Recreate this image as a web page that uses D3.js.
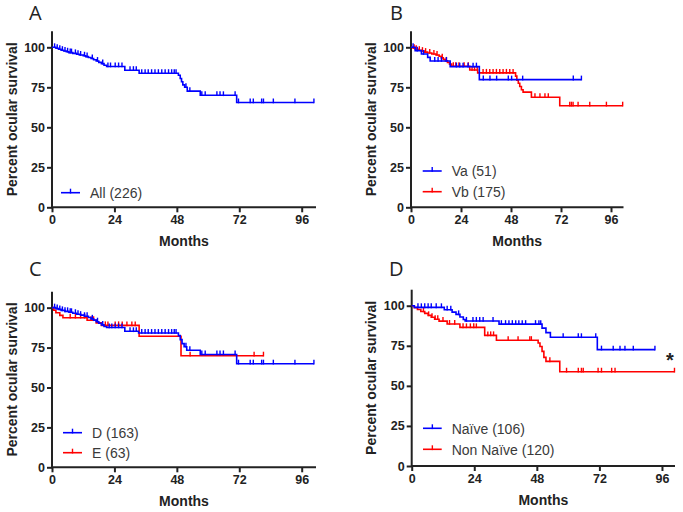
<!DOCTYPE html>
<html>
<head>
<meta charset="utf-8">
<script src="https://cdn.jsdelivr.net/npm/d3@7"></script>
<style>
  html, body { margin: 0; padding: 0; background: #fff; }
  svg { display: block; }
</style>
</head>
<body>
<svg id="chart" width="683" height="512"></svg>
<script>
// ---------------- DATA ----------------
const yTicks = [0, 25, 50, 75, 100];
const xTicks = [0, 24, 48, 72, 96];
const panelLabels = ["A", "B", "C", "D"];
const xAxisTitle = "Months";
const yAxisTitle = "Percent ocular survival";

// Panel A: All (226)
const allSteps = [[0,100],[1.5,99.4],[2.5,98.8],[3.5,98.2],[4.5,97.7],[5.5,97.2],[6.5,96.7],[8,96.2],[9.5,95.7],[10.5,95.2],[12,94.7],[13,94.2],[14,93.6],[15,93],[16,92.2],[17,91.4],[18,90.6],[19,89.8],[20,88.8],[21,88],[28,85.7],[33.5,83.8],[48.6,82.5],[49.3,80.5],[49.8,78.5],[50.3,76.5],[51,75],[52,72.6],[57,70],[71,65.5]];
const allEnd = 100.7;
const allCensor = [1,2,3,4,5,6,7,7.5,9,10,11,12.5,13.5,15.5,17.5,19.5,21.5,22.5,24.3,25.6,26.9,30,31.3,32.4,34.5,35.8,37,38.3,39.6,40.9,42.2,43.5,44.8,46,47,47.7,51.5,53,57.6,58.9,63.4,64.6,65.9,70.4,71.7,76.2,77.4,80.6,81.3,85.1,93.4,100.7];

// Panel B: Va (51), Vb (175)
const vaSteps = [[0,100],[2,97.9],[5,95.8],[8,93.7],[9.2,91.4],[18.8,87.9],[32.8,79.8]];
const vaEnd = 81.8;
const vaCensor = [1,3,6,11.4,13,14.6,17,21.8,23.4,25,27.4,29.8,31.4,34.7,37.9,41.1,46.7,48.3,53.6,77.9,81.8];
const vbSteps = [[0,100],[1,99.4],[2,98.8],[3.5,98.2],[5,97.6],[6.5,97],[8,96.4],[10,95.8],[12,95.2],[13.5,94.4],[14.5,93.5],[15.5,92.5],[16.5,91.5],[17.5,90.5],[18.5,89.5],[19.5,88.2],[28.2,85.8],[32,84],[50.2,82],[50.8,79.5],[51.5,77.5],[52.2,75.5],[53,73.5],[53.8,72],[57.8,68.8],[71.4,63.5]];
const vbEnd = 101.6;
const vbCensor = [1.5,2.5,4,5.5,7,9,11,12.5,15,17,20.3,21.5,23,25.5,27.5,29.3,30.5,31.8,34.6,36.2,37.8,39.4,41,42.6,44.2,45.8,47.4,49,59.5,61.9,64.3,65.9,76.2,77,77.8,80.2,85.8,93.8,101.6];

// Panel C: D (163), E (63)
const dSteps = [[0,100],[1.5,99.4],[2.5,98.9],[3.5,98.3],[5,97.7],[6.5,97.1],[8,96.5],[9.5,95.9],[11,95.3],[12.5,94.6],[14,93.8],[15,93],[16,92.2],[17,91.2],[18,90.2],[19,89.2],[20,88.2],[21,87.6],[28,85.2],[33.3,84.1],[48.6,82.5],[49.3,80],[50,77.5],[50.8,75.5],[51.8,73.3],[57,70.7],[71,64.9]];
const dEnd = 100.7;
const dCensor = [1,2,3,4,5,6,7,7.5,9,10,11,12.5,13.5,15.5,17.5,19.5,22,23,24.3,25.6,26.9,30,31.3,32.4,34.5,35.8,37,38.3,39.6,40.9,42.2,43.5,44.8,46,47,47.7,51.5,53,57.6,58.9,63.4,64.6,65.9,70.4,71.7,76.2,77.4,80.6,81.3,85.1,93.4,100.7];
const eSteps = [[0,100],[0.7,98.4],[1.5,96.8],[3,95.2],[4.2,93.7],[13.5,92.1],[17,90.5],[19,88.9],[33.5,82.1],[49.6,69.9]];
const eEnd = 81.3;
const eCensor = [7,9,11,12.5,15,16,20.5,21.5,24.3,25.6,27,28.8,30.7,32,53.1,77.7,81.3];

// Panel D: Naïve (106), Non Naïve (120)
const naiveSteps = [[0,100],[1,99],[12.5,97.5],[15.5,96],[17,94.6],[18.5,93],[19.8,91.4],[20.5,90.5],[33.5,88.5],[50,86],[51.5,83.2],[53.2,80.3],[71.2,72.6]];
const naiveEnd = 93.3;
const naiveCensor = [2.4,3.7,5,6.3,7.5,9.4,11.4,13.6,15,18,21,23.5,24.8,26.1,27.4,31.2,34.4,36,37.3,38.6,39.9,41.1,42.4,43.7,47.5,48.8,49.5,58.1,63.9,65.1,70.6,72.8,77.3,79.9,81.8,85,93.3];
const nonNaiveSteps = [[0,100],[1,98.8],[2.2,97.6],[3.5,96.4],[5,95.2],[6.3,94],[7.5,92.8],[8.8,91.6],[10.5,90.4],[13.6,88.6],[18.5,86.5],[28,81.5],[32.5,78.5],[48.5,76.7],[49.2,74.6],[50,71.5],[50.7,67.8],[51.5,65.3],[56.8,58.8]];
const nonNaiveEnd = 100.8;
const nonNaiveCensor = [4.5,6.5,7.8,9,10,12,14.5,16.5,19.7,21,22.5,23.8,24.8,29.2,30.3,31.4,37,40.8,45.3,45.9,53,59.4,63.9,65.1,65.8,71.5,72.8,76.7,78,100.8];

const seriesNames = ["All (226)", "Va (51)", "Vb (175)", "D (163)", "E (63)", "Naïve (106)", "Non Naïve (120)"];
const significanceMark = "*";

// ---------------- LAYOUT ----------------
const BLUE = "#0000ff", RED = "#ff0000", AXIS = "#222";
const svg = d3.select("#chart");

const panels = [
  { label: panelLabels[0], lx: 29, ly: 20, xr: [52, 316], xmax: 101.5, yr: [207.3, 31.3],
    legendX: [61, 80], legendY: [192.7],
    series: [{ steps: allSteps, end: allEnd, censor: allCensor, color: BLUE, name: seriesNames[0] }] },
  { label: panelLabels[1], lx: 390, ly: 20, xr: [411, 623.5], xmax: 102, yr: [207.3, 31.3],
    legendX: [422.7, 441.7], legendY: [171, 191.7],
    series: [{ steps: vaSteps, end: vaEnd, censor: vaCensor, color: BLUE, name: seriesNames[1] },
             { steps: vbSteps, end: vbEnd, censor: vbCensor, color: RED, name: seriesNames[2] }] },
  { label: panelLabels[2], lx: 29, ly: 276, xr: [52, 316], xmax: 101.5, yr: [467.3, 291.7],
    legendX: [63, 82], legendY: [432.7, 452.7],
    series: [{ steps: dSteps, end: dEnd, censor: dCensor, color: BLUE, name: seriesNames[3] },
             { steps: eSteps, end: eEnd, censor: eCensor, color: RED, name: seriesNames[4] }] },
  { label: panelLabels[3], lx: 389, ly: 276, xr: [411.7, 675], xmax: 101, yr: [466, 289.7],
    legendX: [423, 441.7], legendY: [428.3, 449.3],
    series: [{ steps: naiveSteps, end: naiveEnd, censor: naiveCensor, color: BLUE, name: seriesNames[5] },
             { steps: nonNaiveSteps, end: nonNaiveEnd, censor: nonNaiveCensor, color: RED, name: seriesNames[6] }],
    mark: { x: 670, y: 367 } }
];

const tickFont = "'Liberation Sans', Arial, sans-serif";

panels.forEach(p => {
  const x = d3.scaleLinear().domain([0, p.xmax]).range(p.xr);
  const y = d3.scaleLinear().domain([0, 110]).range(p.yr);
  const g = svg.append("g");

  // panel label
  svg.append("text").attr("x", p.lx).attr("y", p.ly)
    .attr("font-family", "'Open Sans', sans-serif").attr("font-size", 20)
    .attr("fill", AXIS).text(p.label);

  // axes
  const xAxis = g.append("g").attr("transform", `translate(0,${p.yr[0]})`)
    .call(d3.axisBottom(x).tickValues(xTicks).tickSize(5).tickPadding(3).tickSizeOuter(0));
  const yAxis = g.append("g").attr("transform", `translate(${p.xr[0]},0)`)
    .call(d3.axisLeft(y).tickValues(yTicks).tickSize(5).tickPadding(2).tickSizeOuter(0));
  [xAxis, yAxis].forEach(a => {
    a.select(".domain").attr("stroke", AXIS).attr("stroke-width", 2);
    a.selectAll(".tick line").attr("stroke", AXIS).attr("stroke-width", 2);
    a.selectAll(".tick text").attr("fill", AXIS).attr("font-family", tickFont)
      .attr("font-size", 12.5).attr("font-weight", "bold");
  });
  xAxis.select(".domain").attr("d", `M${p.xr[0]},0H${p.xr[1]}`);
  yAxis.select(".domain").attr("d", `M0,${p.yr[0] + 1}V${p.yr[1]}`);

  // axis titles
  g.append("text").attr("x", (p.xr[0] + p.xr[1]) / 2).attr("y", p.yr[0] + 38.5)
    .attr("text-anchor", "middle").attr("font-family", tickFont).attr("font-weight", "bold")
    .attr("font-size", 14).attr("fill", AXIS).text(xAxisTitle);
  g.append("text")
    .attr("transform", `translate(${p.xr[0] - 35.5},${(p.yr[0] + p.yr[1]) / 2}) rotate(-90)`)
    .attr("text-anchor", "middle").attr("font-family", tickFont).attr("font-weight", "bold")
    .attr("font-size", 14).attr("fill", AXIS).text(yAxisTitle);

  // curves (draw red first, then blue on top)
  const line = d3.line().x(d => x(d[0])).y(d => y(d[1])).curve(d3.curveStepAfter);
  const bis = d3.bisector(d => d[0]).right;
  [...p.series].reverse().forEach(s => {
    const pts = s.steps.concat([[s.end, s.steps[s.steps.length - 1][1]]]);
    g.append("path").attr("d", line(pts)).attr("fill", "none")
      .attr("stroke", s.color).attr("stroke-width", 1.6);
    const surv = t => s.steps[Math.max(0, bis(s.steps, t) - 1)][1];
    g.selectAll(null).data(s.censor).enter().append("line")
      .attr("x1", d => x(d)).attr("x2", d => x(d))
      .attr("y1", d => y(surv(d)) + 0.8).attr("y2", d => y(surv(d)) - 4)
      .attr("stroke", s.color).attr("stroke-width", 1.4);
  });

  // legend
  p.series.forEach((s, i) => {
    const ly = p.legendY[i];
    g.append("line").attr("x1", p.legendX[0]).attr("x2", p.legendX[1])
      .attr("y1", ly).attr("y2", ly).attr("stroke", s.color).attr("stroke-width", 1.6);
    const mx = (p.legendX[0] + p.legendX[1]) / 2;
    g.append("line").attr("x1", mx).attr("x2", mx).attr("y1", ly + 0.8).attr("y2", ly - 4)
      .attr("stroke", s.color).attr("stroke-width", 1.4);
    g.append("text").attr("x", p.legendX[1] + 10).attr("y", ly + 5.2)
      .attr("font-family", tickFont).attr("font-size", 14).attr("fill", "#3a3a3a").text(s.name);
  });

  if (p.mark) {
    g.append("text").attr("x", p.mark.x).attr("y", p.mark.y).attr("text-anchor", "middle")
      .attr("font-family", tickFont).attr("font-weight", "bold").attr("font-size", 20)
      .attr("fill", AXIS).text(significanceMark);
  }
});
</script>
</body>
</html>
